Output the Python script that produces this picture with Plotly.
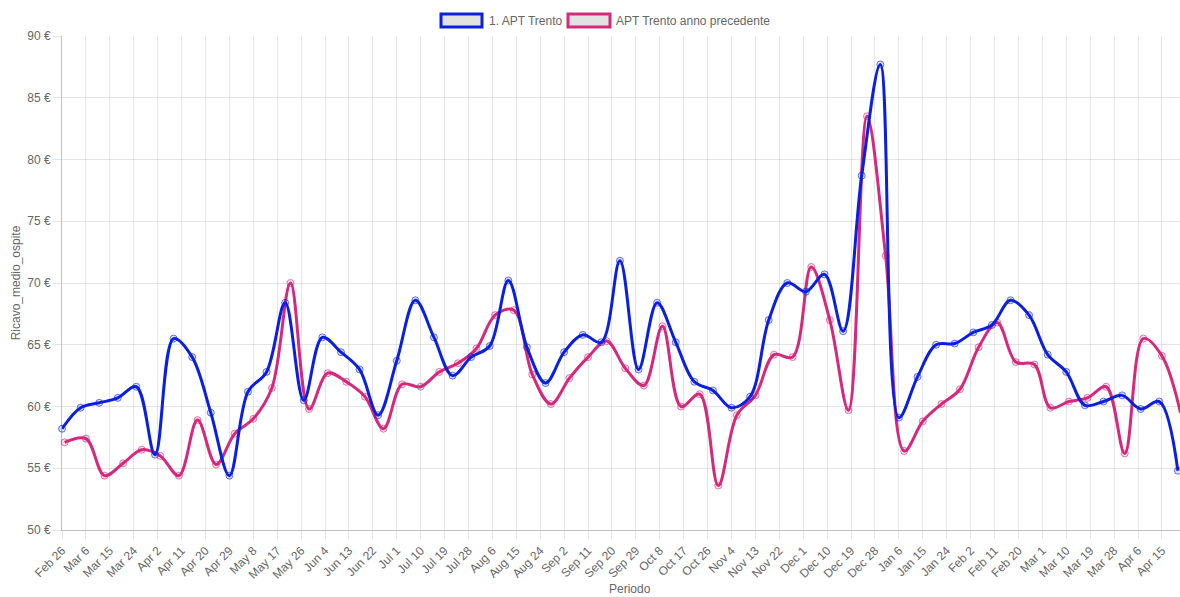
import pandas as pd
import plotly.graph_objects as go

# ---- data ----
series_current_name = "1. APT Trento"
series_previous_name = "APT Trento anno precedente"

current_start = "2024-02-26"
previous_start = "2023-02-27"

current_values = [
    58.2, 59.9, 60.3, 60.7, 61.6, 56.1, 65.5, 64.0, 59.5, 54.4,
    61.2, 62.8, 68.4, 60.5, 65.6, 64.4, 63.0, 59.3, 63.7, 68.6,
    65.6, 62.5, 64.0, 64.9, 70.2, 64.8, 61.9, 64.4, 65.8, 65.2,
    71.8, 63.0, 68.4, 65.2, 62.0, 61.3, 59.9, 60.8, 67.0, 70.0,
    69.3, 70.7, 66.1, 78.7, 87.7, 59.1, 62.4, 65.0, 65.1, 66.0,
    66.6, 68.6, 67.4, 64.2, 62.8, 60.1, 60.4, 60.9, 59.8, 60.4,
    54.8,
]
previous_values = [
    57.1, 57.4, 54.4, 55.4, 56.5, 56.0, 54.4, 58.9, 55.3, 57.8,
    59.0, 61.5, 70.0, 59.8, 62.7, 62.0, 60.8, 58.2, 61.8, 61.6,
    62.8, 63.5, 64.7, 67.4, 67.8, 62.6, 60.2, 62.3, 64.0, 65.3,
    63.1, 61.7, 66.5, 60.0, 61.0, 53.6, 59.3, 60.9, 64.2, 64.0,
    71.3, 67.0, 59.7, 83.5, 72.2, 56.4, 58.8, 60.2, 61.4, 64.8,
    66.8, 63.6, 63.4, 59.9, 60.4, 60.7, 61.6, 56.2, 65.5, 64.1,
    59.5,
]

current_dates = pd.date_range(current_start, periods=len(current_values), freq="7D")
# previous-year weekly dates, shifted one year forward onto the current timeline
previous_dates = pd.date_range(previous_start, periods=len(previous_values), freq="7D") + pd.DateOffset(years=1)

BLUE = "#0b1fe0"
PINK = "#d6287c"
GRID = "rgba(0,0,0,0.1)"
TXT = "#666666"
FONT = "Liberation Sans, Arial, Helvetica, sans-serif"

fig = go.Figure()
fig.add_trace(go.Scatter(
    x=previous_dates, y=previous_values, name=series_previous_name,
    mode="lines+markers", line=dict(color=PINK, width=3, shape="spline", smoothing=1.0),
    marker=dict(symbol="circle", size=7, color="rgba(214,40,124,0.15)",
                line=dict(color="rgba(214,40,124,0.6)", width=1)),
    cliponaxis=False, showlegend=False,
))
fig.add_trace(go.Scatter(
    x=current_dates, y=current_values, name=series_current_name,
    mode="lines+markers", line=dict(color=BLUE, width=3, shape="spline", smoothing=1.0),
    marker=dict(symbol="circle", size=7, color="rgba(11,31,224,0.15)",
                line=dict(color="rgba(11,31,224,0.6)", width=1)),
    cliponaxis=False, showlegend=False,
))

W, H = 1180, 597
L, R, T, B = 62, 0, 36, 67
PW, PH = W - L - R, H - T - B

x0 = pd.Timestamp(current_start)
x1 = x0 + pd.Timedelta(days=420.8)

fig.update_layout(
    width=W, height=H,
    margin=dict(l=L, r=R, t=T, b=B),
    paper_bgcolor="white", plot_bgcolor="white",
    font=dict(family=FONT, size=12, color=TXT),
    xaxis=dict(
        type="date", range=[x0, x1],
        tick0=current_start, dtick=9 * 86400000, tickformat="%b %-d",
        tickangle=-45, ticks="outside", ticklen=8, tickcolor=GRID,
        showgrid=True, gridcolor=GRID, gridwidth=1,
        showline=True, linecolor="rgba(0,0,0,0.25)", linewidth=1,
        zeroline=False,
        automargin=False,
    ),
    yaxis=dict(
        range=[50, 90], dtick=5, tick0=50, ticksuffix=" €",
        ticks="outside", ticklen=8, tickcolor=GRID,
        showgrid=True, gridcolor=GRID, gridwidth=1,
        showline=True, linecolor="rgba(0,0,0,0.25)", linewidth=1,
        zeroline=False,
        title=dict(text="Ricavo_medio_ospite", font=dict(size=12, color=TXT), standoff=4),
        automargin=False,
    ),
)

def px_x(p):
    return (p - L) / PW

def px_y(p):
    return (H - B - p) / PH

# x-axis title placed like the reference
fig.add_annotation(xref="paper", yref="paper", x=px_x(630), y=px_y(589),
                   xanchor="center", yanchor="middle", showarrow=False,
                   text="Periodo", font=dict(size=12, color=TXT, family=FONT))

# Chart.js-style legend: boxes with coloured borders and grey fill
legend_items = [
    (441, 482, BLUE, 487, series_current_name),
    (568, 610, PINK, 614, series_previous_name),
]
for bx0, bx1, col, tx, label in legend_items:
    fig.add_shape(type="rect", xref="paper", yref="paper",
                  x0=px_x(bx0), x1=px_x(bx1), y0=px_y(27), y1=px_y(14),
                  fillcolor="#e2e2e2", line=dict(color=col, width=3))
    fig.add_annotation(xref="paper", yref="paper", x=px_x(tx), y=px_y(20.5),
                       xanchor="left", yanchor="middle", showarrow=False,
                       text=label, font=dict(size=12, color=TXT, family=FONT))

fig.write_html("out.html",
               config={"displayModeBar": False},
               post_script="document.body.style.margin='0';document.body.style.overflow='hidden';")
